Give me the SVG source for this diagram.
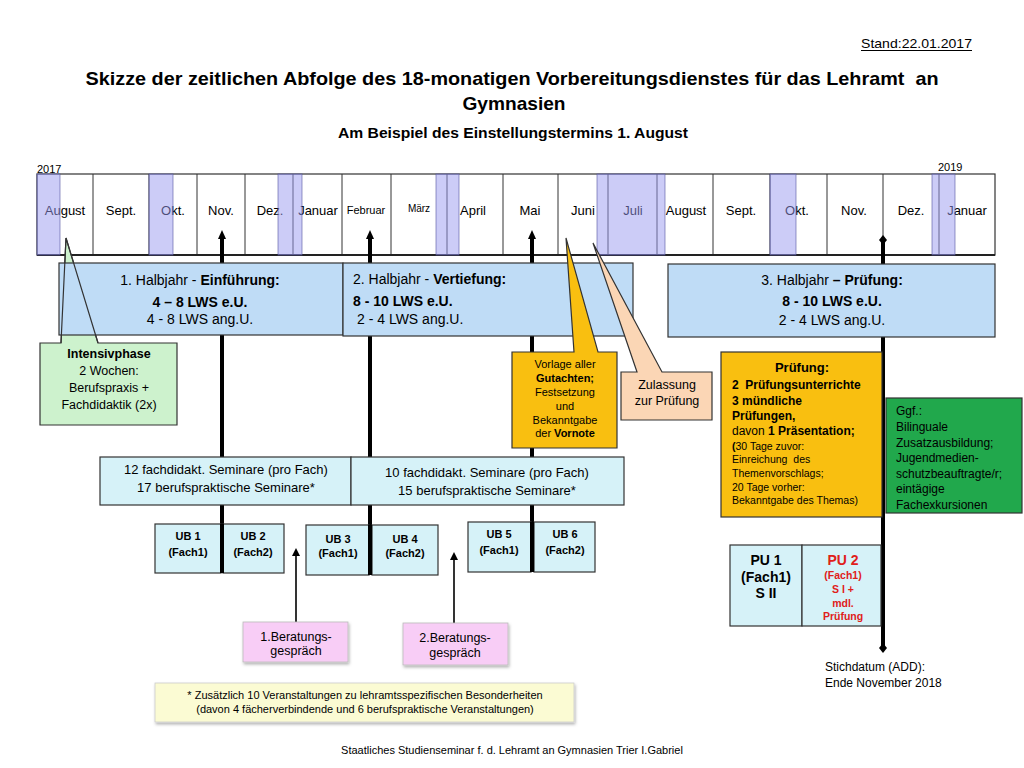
<svg xmlns="http://www.w3.org/2000/svg" width="1024" height="768" viewBox="0 0 1024 768">
<defs>
<style>
.t{font-family:"Liberation Sans",Arial,sans-serif;fill:#000}
.n{font-family:"Liberation Sans Narrow","Liberation Sans",Arial,sans-serif;fill:#000}
.b{font-weight:bold}
.m{font-size:13px;text-anchor:middle}
.c{text-anchor:middle}
.ov{fill:#9999f0;fill-opacity:0.5;stroke:#5555a0;stroke-opacity:0.6;stroke-width:1}
.hj{fill:#bfdcf6;stroke:#333;stroke-width:1.2}
.cy{fill:#d6f2f8;stroke:#333;stroke-width:1.2}
.thick{stroke:#000;stroke-width:4;fill:none}
.thin{stroke:#000;stroke-width:1.6;fill:none}
.pre{white-space:pre}
</style>
<marker id="ah" markerUnits="userSpaceOnUse" markerWidth="10" markerHeight="10" refX="3" refY="5" orient="auto"><path d="M0,1 L9,5 L0,9 z" fill="#000"/></marker>
<marker id="dm" markerUnits="userSpaceOnUse" markerWidth="10" markerHeight="10" refX="5" refY="5" orient="auto"><path d="M0,5 L5,1 L10,5 L5,9 z" fill="#000"/></marker>
<marker id="sa" markerUnits="userSpaceOnUse" markerWidth="10" markerHeight="10" refX="6" refY="4" orient="auto"><path d="M0,0 L8,4 L0,8 z" fill="#000"/></marker>
<filter id="sh" x="-10%" y="-10%" width="130%" height="150%"><feDropShadow dx="1" dy="2" stdDeviation="1.5" flood-color="#000" flood-opacity="0.3"/></filter>
</defs>
<rect width="1024" height="768" fill="#fff"/>

<g id="header">
<text class="n" x="972" y="48" font-size="13" text-anchor="end" textLength="111" lengthAdjust="spacingAndGlyphs">Stand:22.01.2017</text>
<line x1="861" y1="50.5" x2="972" y2="50.5" stroke="#000" stroke-width="1"/>
<text class="n b pre" x="512" y="85" font-size="19" text-anchor="middle" textLength="853" lengthAdjust="spacingAndGlyphs" xml:space="preserve">Skizze der zeitlichen Abfolge des 18-monatigen Vorbereitungsdienstes für das Lehramt  an</text>
<text class="n b" x="514" y="110" font-size="19" text-anchor="middle" textLength="103" lengthAdjust="spacingAndGlyphs">Gymnasien</text>
<text class="n b" x="513" y="138" font-size="15" text-anchor="middle" textLength="350" lengthAdjust="spacingAndGlyphs">Am Beispiel des Einstellungstermins 1. August</text>
</g>

<g id="timeline">
<text class="t" x="37" y="173" font-size="11">2017</text>
<text class="t" x="938" y="171" font-size="11">2019</text>
<rect x="37" y="174" width="958" height="81" fill="#fff" stroke="#333" stroke-width="1.2"/>
<g stroke="#333" stroke-width="1">
<line x1="93" y1="174" x2="93" y2="255"/>
<line x1="149" y1="174" x2="149" y2="255"/>
<line x1="197" y1="174" x2="197" y2="255"/>
<line x1="245" y1="174" x2="245" y2="255"/>
<line x1="293" y1="174" x2="293" y2="255"/>
<line x1="342" y1="174" x2="342" y2="255"/>
<line x1="391" y1="174" x2="391" y2="255"/>
<line x1="447" y1="174" x2="447" y2="255"/>
<line x1="503" y1="174" x2="503" y2="255"/>
<line x1="558" y1="174" x2="558" y2="255"/>
<line x1="608" y1="174" x2="608" y2="255"/>
<line x1="657" y1="174" x2="657" y2="255"/>
<line x1="713" y1="174" x2="713" y2="255"/>
<line x1="770" y1="174" x2="770" y2="255"/>
<line x1="827" y1="174" x2="827" y2="255"/>
<line x1="883" y1="174" x2="883" y2="255"/>
<line x1="939" y1="174" x2="939" y2="255"/>
</g>
<line x1="37" y1="255" x2="995" y2="255" stroke="#222" stroke-width="2"/>
<text class="t m" x="65" y="215">August</text>
<text class="t m" x="121" y="215">Sept.</text>
<text class="t m" x="173" y="215">Okt.</text>
<text class="t m" x="221" y="215">Nov.</text>
<text class="t m" x="270" y="215">Dez.</text>
<text class="t m" x="318" y="215">Januar</text>
<text class="t c" x="366" y="214" font-size="11">Februar</text>
<text class="t c" x="419" y="212" font-size="10">März</text>
<text class="t m" x="473" y="215">April</text>
<text class="t m" x="530" y="215">Mai</text>
<text class="t m" x="583" y="215">Juni</text>
<text class="t m" x="633" y="215">Juli</text>
<text class="t m" x="686" y="215">August</text>
<text class="t m" x="741" y="215">Sept.</text>
<text class="t m" x="797" y="215">Okt.</text>
<text class="t m" x="854" y="215">Nov.</text>
<text class="t m" x="911" y="215">Dez.</text>
<text class="t m" x="967" y="215">Januar</text>
<rect class="ov" x="37" y="174" width="23" height="81"/>
<rect class="ov" x="149" y="174" width="24" height="81"/>
<rect class="ov" x="278" y="174" width="24" height="81"/>
<rect class="ov" x="436" y="174" width="23" height="81"/>
<rect class="ov" x="597" y="174" width="68" height="81"/>
<rect class="ov" x="770" y="174" width="26" height="81"/>
<rect class="ov" x="932" y="174" width="23" height="81"/>
</g>

<g id="connectors">
<line class="thick" x1="222" y1="572" x2="222" y2="236" marker-end="url(#ah)"/>
<line class="thick" x1="370" y1="575" x2="370" y2="236" marker-end="url(#ah)"/>
<line class="thick" x1="532" y1="572" x2="532" y2="236" marker-end="url(#ah)"/>
<line class="thick" x1="883" y1="240" x2="883" y2="648" marker-start="url(#dm)" marker-end="url(#dm)"/>
<line class="thin" x1="296" y1="622" x2="296" y2="550" marker-end="url(#sa)"/>
<line class="thin" x1="454" y1="623" x2="454" y2="554" marker-end="url(#sa)"/>
</g>

<g id="intensivphase">
<path d="M40,343 L61,343 L66,238 L98,343 L177,343 L177,425 L40,425 Z" fill="#cdf2cd" stroke="#333" stroke-width="1.2"/>
</g>

<g id="halbjahr1">
<rect class="hj" x="59" y="263" width="284" height="72"/>
<text class="t c" x="200" y="285" font-size="14">1. Halbjahr - <tspan class="b">Einführung:</tspan></text>
<text class="t b c" x="200" y="307" font-size="14">4 – 8 LWS e.U.</text>
<text class="t c" x="200" y="324" font-size="14">4 - 8 LWS ang.U.</text>
</g>
<g id="intensivphase-text">
<path d="M66,238 L98,343 M66,238 L61,343" stroke="#333" stroke-width="1.2" fill="none"/>
<text class="t b c" x="109" y="358" font-size="12.5">Intensivphase</text>
<text class="t c" x="109" y="375" font-size="12.5">2 Wochen:</text>
<text class="t c" x="109" y="392" font-size="12.5">Berufspraxis +</text>
<text class="t c" x="109" y="409" font-size="12.5">Fachdidaktik (2x)</text>
</g>
<g id="halbjahr2">
<rect class="hj" x="343" y="263" width="290" height="73"/>
<text class="t" x="353" y="284" font-size="14">2. Halbjahr - <tspan class="b">Vertiefung:</tspan></text>
<text class="t b" x="353" y="306" font-size="14">8 - 10 LWS e.U.</text>
<text class="t" x="357" y="324" font-size="14">2 - 4 LWS ang.U.</text>
</g>
<g id="halbjahr3">
<rect class="hj" x="668" y="264" width="327" height="73"/>
<text class="t c" x="832" y="285" font-size="14">3. Halbjahr <tspan class="b">– Prüfung:</tspan></text>
<text class="t b c" x="832" y="306" font-size="14">8 - 10 LWS e.U.</text>
<text class="t c" x="832" y="325" font-size="14">2 - 4 LWS ang.U.</text>
</g>

<g id="vorlage">
<path d="M512,352 L574,352 L566,238 L598,352 L617,352 L617,448 L512,448 Z" fill="#f9bf10" stroke="#333" stroke-width="1.2"/>
<text class="t c" x="565" y="368" font-size="11">Vorlage aller</text>
<text class="t b c" x="565" y="382" font-size="11">Gutachten;</text>
<text class="t c" x="565" y="396" font-size="11">Festsetzung</text>
<text class="t c" x="565" y="410" font-size="11">und</text>
<text class="t c" x="565" y="424" font-size="11">Bekanntgabe</text>
<text class="t c" x="565" y="437" font-size="11">der <tspan class="b">Vornote</tspan></text>
</g>

<g id="zulassung">
<path d="M621,372 L637,372 L593,243 L662,372 L712,372 L712,420 L621,420 Z" fill="#fbd6b5" stroke="#333" stroke-width="1.2"/>
<text class="t c" x="667" y="389" font-size="12.5">Zulassung</text>
<text class="t c" x="667" y="405" font-size="12.5">zur Prüfung</text>
</g>

<g id="pruefung">
<rect x="721" y="352" width="161" height="165" fill="#f9bf10" stroke="#333" stroke-width="1.2"/>
<text class="t b c" x="802" y="372" font-size="13">Prüfung:</text>
<text class="t b pre" x="732" y="389" font-size="12" xml:space="preserve">2  Prüfungsunterrichte</text>
<text class="t b" x="732" y="405" font-size="12">3 mündliche</text>
<text class="t b" x="732" y="420" font-size="12">Prüfungen,</text>
<text class="t" x="732" y="435" font-size="12">davon <tspan class="b">1 Präsentation;</tspan></text>
<text class="t" x="732" y="450" font-size="10.5"><tspan class="b">(</tspan>30 Tage zuvor:</text>
<text class="t pre" x="732" y="463" font-size="10.5" xml:space="preserve">Einreichung  des</text>
<text class="t" x="732" y="477" font-size="10.5">Themenvorschlags;</text>
<text class="t" x="732" y="491" font-size="10.5">20 Tage vorher:</text>
<text class="t" x="732" y="504" font-size="10.5">Bekanntgabe des Themas)</text>
</g>

<g id="ggf">
<rect x="886" y="398" width="136" height="115" fill="#21a84c" stroke="#333" stroke-width="1.2"/>
<text class="t" x="896" y="415" font-size="12">Ggf.:</text>
<text class="t" x="896" y="431" font-size="12">Bilinguale</text>
<text class="t" x="896" y="447" font-size="12">Zusatzausbildung;</text>
<text class="t" x="896" y="462" font-size="12">Jugendmedien-</text>
<text class="t" x="896" y="478" font-size="12">schutzbeauftragte/r;</text>
<text class="t" x="896" y="493" font-size="12">eintägige</text>
<text class="t" x="896" y="509" font-size="12">Fachexkursionen</text>
</g>

<g id="seminare1">
<rect class="cy" x="100" y="457" width="251" height="48"/>
<text class="t c" x="226" y="474" font-size="13">12 fachdidakt. Seminare (pro Fach)</text>
<text class="t c" x="226" y="492" font-size="13">17 berufspraktische Seminare*</text>
</g>
<g id="seminare2">
<rect class="cy" x="351" y="457" width="273" height="48"/>
<text class="t c" x="487" y="477" font-size="13">10 fachdidakt. Seminare (pro Fach)</text>
<text class="t c" x="487" y="495" font-size="13">15 berufspraktische Seminare*</text>
</g>

<g id="ub1">
<rect class="cy" x="155" y="524" width="66" height="49"/>
<text class="t b c" x="188" y="540" font-size="11">UB 1</text>
<text class="t b c" x="188" y="556" font-size="11">(Fach1)</text>
</g>
<g id="ub2">
<rect class="cy" x="223" y="524" width="61" height="49"/>
<text class="t b c" x="253" y="540" font-size="11">UB 2</text>
<text class="t b c" x="253" y="556" font-size="11">(Fach2)</text>
</g>
<g id="ub3">
<rect class="cy" x="306" y="525" width="63" height="50"/>
<text class="t b c" x="338" y="543" font-size="11">UB 3</text>
<text class="t b c" x="338" y="557" font-size="11">(Fach1)</text>
</g>
<g id="ub4">
<rect class="cy" x="372" y="525" width="66" height="50"/>
<text class="t b c" x="405" y="543" font-size="11">UB 4</text>
<text class="t b c" x="405" y="557" font-size="11">(Fach2)</text>
</g>
<g id="ub5">
<rect class="cy" x="468" y="522" width="63" height="50"/>
<text class="t b c" x="499" y="538" font-size="11">UB 5</text>
<text class="t b c" x="499" y="554" font-size="11">(Fach1)</text>
</g>
<g id="ub6">
<rect class="cy" x="534" y="522" width="61" height="50"/>
<text class="t b c" x="565" y="538" font-size="11">UB 6</text>
<text class="t b c" x="565" y="554" font-size="11">(Fach2)</text>
</g>
<g id="ub-dividers">
<line class="thick" x1="222" y1="524" x2="222" y2="573"/>
<line class="thick" x1="370" y1="525" x2="370" y2="575"/>
<line class="thick" x1="532" y1="522" x2="532" y2="572"/>
</g>

<g id="pu1">
<rect class="cy" x="730" y="545" width="72" height="81"/>
<text class="t b c" x="766" y="565" font-size="14">PU 1</text>
<text class="t b c" x="766" y="582" font-size="14">(Fach1)</text>
<text class="t b c" x="766" y="598" font-size="14">S II</text>
</g>
<g id="pu2">
<rect class="cy" x="802" y="545" width="79" height="81"/>
<text class="t b c" x="843" y="565" font-size="14" style="fill:#e0201a">PU 2</text>
<text class="t b c" x="843" y="579" font-size="10.5" style="fill:#e0201a">(Fach1)</text>
<text class="t b c" x="843" y="593" font-size="10.5" style="fill:#e0201a">S I +</text>
<text class="t b c" x="843" y="607" font-size="10.5" style="fill:#e0201a">mdl.</text>
<text class="t b c" x="843" y="620" font-size="10.5" style="fill:#e0201a">Prüfung</text>
</g>
<g id="stichdatum">
<text class="t" x="825" y="671" font-size="12">Stichdatum (ADD):</text>
<text class="t" x="825" y="687" font-size="12">Ende November 2018</text>
</g>

<g id="beratung1">
<rect x="243" y="622" width="105" height="40" fill="#f8cdf6" stroke="#bbb" stroke-width="0.8" filter="url(#sh)"/>
<text class="t c" x="296" y="641" font-size="12.5">1.Beratungs-</text>
<text class="t c" x="296" y="655" font-size="12.5">gespräch</text>
</g>
<g id="beratung2">
<rect x="403" y="623" width="105" height="42" fill="#f8cdf6" stroke="#bbb" stroke-width="0.8" filter="url(#sh)"/>
<text class="t c" x="455" y="642" font-size="12.5">2.Beratungs-</text>
<text class="t c" x="455" y="657" font-size="12.5">gespräch</text>
</g>

<g id="footnote">
<rect x="155" y="683" width="419" height="39" fill="#fbfbd3" stroke="#ccc" stroke-width="0.8" filter="url(#sh)"/>
<text class="t c" x="365" y="699" font-size="11">* Zusätzlich 10 Veranstaltungen zu lehramtsspezifischen Besonderheiten</text>
<text class="t c" x="365" y="713" font-size="11">(davon 4 fächerverbindende und 6 berufspraktische Veranstaltungen)</text>
</g>

<g id="footer">
<text class="t c" x="512" y="754" font-size="11">Staatliches Studienseminar f. d. Lehramt an Gymnasien Trier I.Gabriel</text>
</g>
</svg>
